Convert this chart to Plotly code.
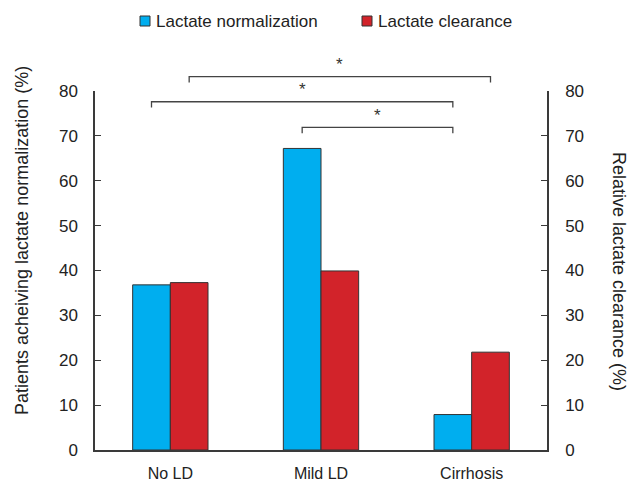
import plotly.graph_objects as go

categories = ["No LD", "Mild LD", "Cirrhosis"]
normalization = [36.8, 67.2, 7.9]
clearance = [37.3, 39.9, 21.8]
series_names = ["Lactate normalization", "Lactate clearance"]
tick_vals = [0, 10, 20, 30, 40, 50, 60, 70, 80]
# significance comparisons: (category_from, series_from, category_to, series_to, label)
comparisons = [
    (0, 1, 2, 1, "*"),
    (0, 0, 2, 0, "*"),
    (1, 0, 2, 0, "*"),
]

BLUE = "#00AEEF"
RED = "#D2232A"
AXC = "#3a3a3a"
FONT = "Liberation Sans"
YMAX = 80

fig = go.Figure()
fig.add_trace(go.Bar(x=categories, y=normalization, name=series_names[0],
                     marker=dict(color=BLUE, line=dict(color="#333333", width=1))))
fig.add_trace(go.Bar(x=categories, y=clearance, name=series_names[1],
                     marker=dict(color=RED, line=dict(color="#333333", width=1))))
fig.add_trace(go.Scatter(x=categories, y=clearance, yaxis="y2", mode="markers",
                         marker=dict(opacity=0), hoverinfo="skip", showlegend=False))

axis_common = dict(range=[0, YMAX], tickvals=tick_vals, ticks="inside", ticklen=6,
                   tickcolor=AXC, tickwidth=1.3, showline=True, linecolor=AXC,
                   linewidth=1.5, showgrid=False, zeroline=False, automargin=False,
                   tickfont=dict(family=FONT, size=17, color="#222"))

fig.update_layout(
    width=630, height=485, autosize=False,
    margin=dict(l=95, r=83, t=91, b=35, autoexpand=False),
    plot_bgcolor="white", paper_bgcolor="white",
    barmode="group", bargap=0.5, bargroupgap=0,
    showlegend=False,
    xaxis=dict(showline=True, linecolor=AXC, linewidth=1.5, ticks="",
               tickfont=dict(family=FONT, size=16, color="#222"), automargin=False,
               ticklabelstandoff=8, range=[-0.5, 2.5]),
    yaxis=dict(**axis_common, ticklabelstandoff=12),
    yaxis2=dict(**axis_common, overlaying="y", side="right", ticklabelstandoff=13),
)

shapes = []
annotations = []
offsets = [-0.125, 0.125]
levels = [83.2, 77.6, 71.9]
ncat = len(categories)


def px(ci, si):
    return (ci + offsets[si] + 0.5) / ncat


for (c0, s0, c1, s1, lab), lv in zip(comparisons, levels):
    x0, x1 = px(c0, s0), px(c1, s1)
    ytop = lv / YMAX
    ybot = (lv - 1.3) / YMAX
    path = f"M {x0} {ybot} L {x0} {ytop} L {x1} {ytop} L {x1} {ybot}"
    shapes.append(dict(type="path", path=path, xref="paper", yref="paper",
                       line=dict(color="#444", width=1.3)))
    annotations.append(dict(text=lab, x=(x0 + x1) / 2, y=(lv + 0.1) / YMAX,
                            xref="paper", yref="paper", showarrow=False,
                            yanchor="bottom", font=dict(family=FONT, size=17, color="#333")))

# legend (manual)
leg_items = [(series_names[0], BLUE, 140), (series_names[1], RED, 362)]
for name, col, xpix in leg_items:
    shapes.append(dict(type="rect", xref="paper", yref="paper",
                       x0=(xpix - 95) / 452, x1=(xpix + 10 - 95) / 452,
                       y0=1 + (91 - 26) / 359, y1=1 + (91 - 16) / 359,
                       fillcolor=col, line=dict(color="#333", width=1)))
    annotations.append(dict(text=name, xref="paper", yref="paper",
                            x=(xpix + 14 - 95) / 452, y=1 + (91 - 21) / 359,
                            xanchor="left", yanchor="middle", showarrow=False,
                            font=dict(family=FONT, size=17, color="#222")))

# axis titles
annotations.append(dict(text="Patients acheiving lactate normalization (%)",
                        xref="paper", yref="paper", x=(22 - 95) / 452,
                        y=(450 - 241) / 359, textangle=-90, showarrow=False,
                        xanchor="center", yanchor="middle",
                        font=dict(family=FONT, size=18, color="#222")))
annotations.append(dict(text="Relative lactate clearance (%)",
                        xref="paper", yref="paper", x=(619 - 95) / 452,
                        y=(450 - 271) / 359, textangle=90, showarrow=False,
                        xanchor="center", yanchor="middle",
                        font=dict(family=FONT, size=18, color="#222")))

fig.update_layout(shapes=shapes, annotations=annotations)
fig.write_html("out.html",
               config=dict(displayModeBar=False, responsive=False),
               post_script="document.body.style.margin='0';document.body.style.padding='0';")
